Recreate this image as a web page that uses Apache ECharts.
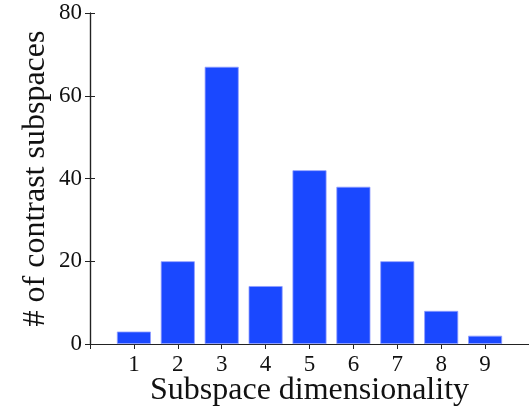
<!DOCTYPE html>
<html>
<head>
<meta charset="utf-8">
<script src="https://cdn.jsdelivr.net/npm/echarts@6/dist/echarts.min.js"></script>
<style>html,body{margin:0;padding:0;background:#fff}#c{width:529px;height:409px}</style>
</head>
<body>
<div id="c"></div>
<script>
const dims = [1, 2, 3, 4, 5, 6, 7, 8, 9];
const counts = [3, 20, 67, 14, 42, 38, 20, 8, 2];
const yTicks = [0, 20, 40, 60, 80];
const xTitle = 'Subspace dimensionality';
const yTitle = '# of contrast subspaces';

const font = 'Liberation Serif';
const axisColor = '#222';
const chart = echarts.init(document.getElementById('c'));
chart.setOption({
  animation: false,
  backgroundColor: '#fff',
  grid: { left: 90, right: 0, top: 13, bottom: 65, containLabel: false, outerBoundsMode: 'none' },
  xAxis: [{
    type: 'value', min: 0, max: 10, interval: 1, position: 'bottom',
    name: xTitle, nameLocation: 'middle', nameGap: 47, nameMoveOverlap: false,
    nameTextStyle: { fontFamily: font, fontSize: 32, color: '#111', verticalAlign: 'middle' },
    axisLine: { show: true, lineStyle: { color: axisColor, width: 1.2 } },
    axisTick: { show: false },
    axisLabel: { fontFamily: font, fontSize: 23, color: '#111', margin: 9,
      formatter: v => (dims.indexOf(v) >= 0 ? String(v) : '') },
    splitLine: { show: false }
  }, {
    type: 'value', min: 0, max: 10, interval: 1, position: 'top',
    axisLine: { show: true, lineStyle: { color: axisColor, width: 1.2 } },
    axisTick: { show: true, inside: true, length: 5, lineStyle: { color: axisColor } },
    axisLabel: { show: false }, splitLine: { show: false }
  }],
  yAxis: [{
    type: 'value', min: yTicks[0], max: yTicks[yTicks.length - 1], interval: 20,
    name: yTitle, nameLocation: 'middle', nameGap: 54, nameMoveOverlap: false,
    nameTextStyle: { fontFamily: font, fontSize: 32, color: '#111', verticalAlign: 'middle' },
    axisLine: { show: true, lineStyle: { color: axisColor, width: 1.2 } },
    axisTick: { show: true, inside: true, length: 5, lineStyle: { color: axisColor } },
    axisLabel: { fontFamily: font, fontSize: 23, color: '#111', margin: 8 },
    splitLine: { show: false }
  }, {
    type: 'value', min: yTicks[0], max: yTicks[yTicks.length - 1], interval: 20, position: 'right',
    axisLine: { show: true, lineStyle: { color: axisColor, width: 1.2 } },
    axisTick: { show: true, inside: true, length: 5, lineStyle: { color: axisColor } },
    axisLabel: { show: false }, splitLine: { show: false }
  }],
  series: [{
    type: 'bar',
    xAxisIndex: 0, yAxisIndex: 0,
    barWidth: 34,
    data: dims.map((d, i) => [d, counts[i]]),
    itemStyle: { color: '#1a48ff', borderColor: '#8f9dff', borderWidth: 0.8 }
  }]
});
</script>
</body>
</html>
